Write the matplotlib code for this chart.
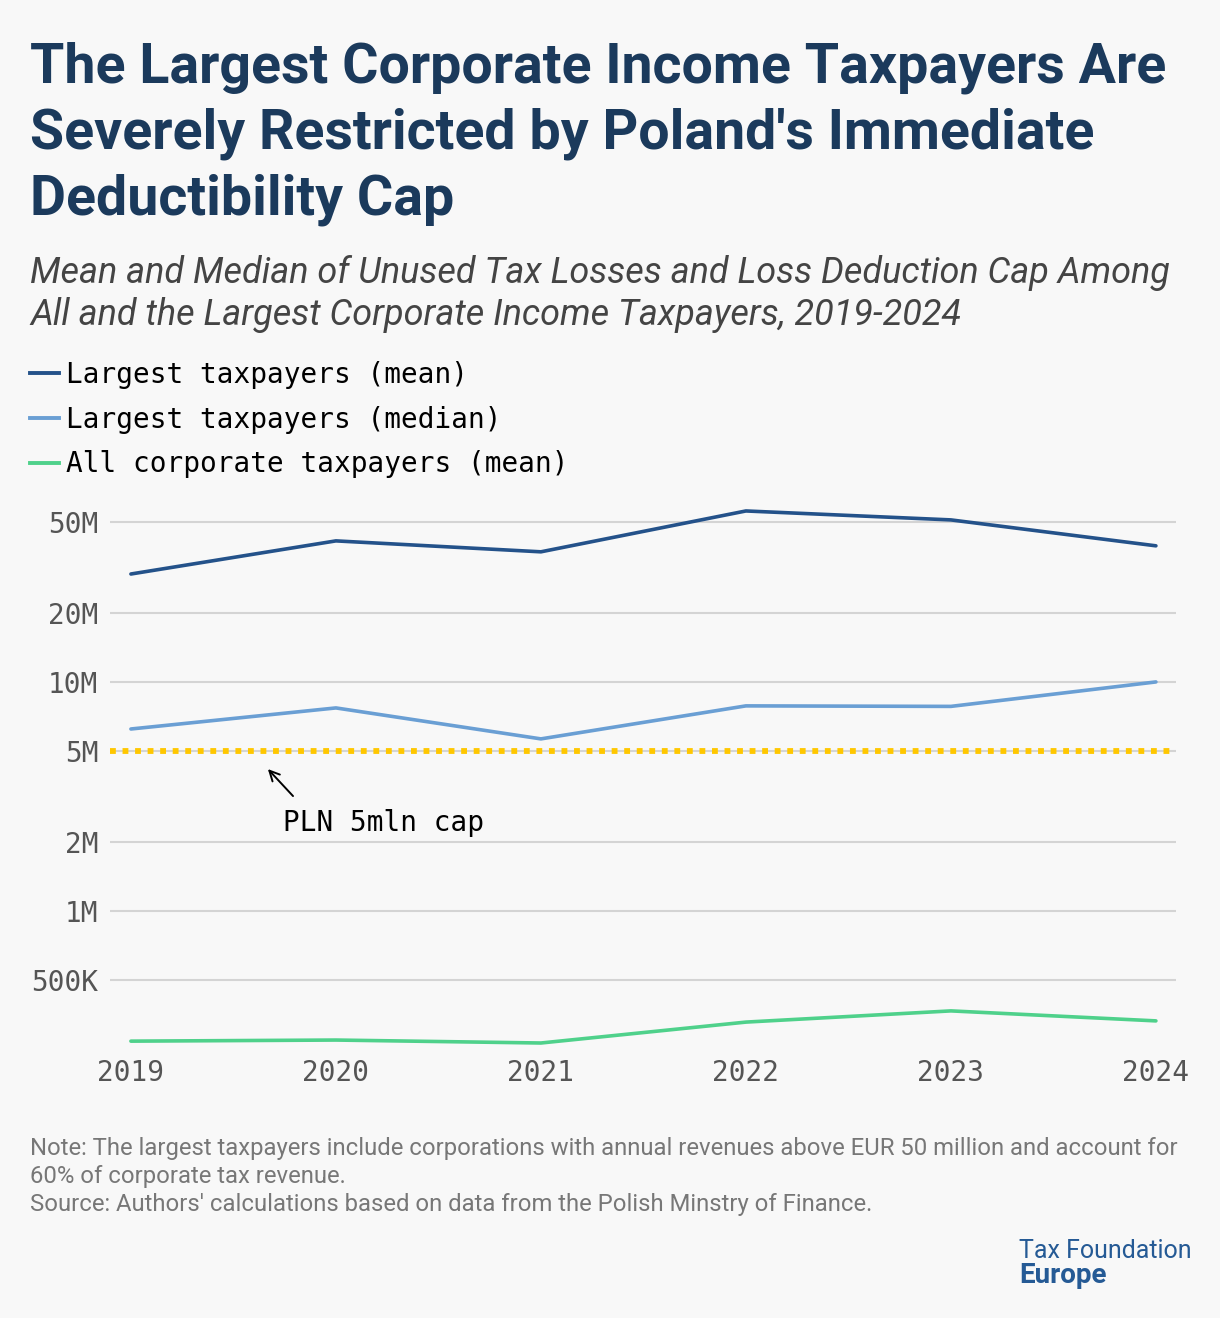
import matplotlib
matplotlib.use("Agg")
import matplotlib.pyplot as plt
from matplotlib.lines import Line2D
from matplotlib.ticker import FixedLocator, NullLocator

years = [2019, 2020, 2021, 2022, 2023, 2024]
largest_mean = [29.6e6, 41.3e6, 37.0e6, 55.8e6, 51.0e6, 39.3e6]
largest_median = [6.23e6, 7.70e6, 5.64e6, 7.86e6, 7.82e6, 10.0e6]
all_mean = [270e3, 273e3, 265e3, 327e3, 366e3, 331e3]
cap_value = 5e6

ytick_vals = [500e3, 1e6, 2e6, 5e6, 10e6, 20e6, 50e6]
ytick_labels = ["500K", "1M", "2M", "5M", "10M", "20M", "50M"]
series_labels = ["Largest taxpayers (mean)", "Largest taxpayers (median)", "All corporate taxpayers (mean)"]

BG = "#f8f8f8"
C_MEAN = "#24528a"
C_MED = "#6a9fd4"
C_ALL = "#4fd18b"
C_CAP = "#ffc700"
TITLE_C = "#1b3a5c"
MONO = ["DejaVu Sans Mono"]

W, H = 1220, 1318
fig = plt.figure(figsize=(W / 100, H / 100), dpi=100, facecolor=BG)

def fx(px):
    return px / W

def fy(py):
    return 1 - py / H

ax = fig.add_axes([fx(110), fy(1050), fx(1176) - fx(110), fy(500) - fy(1050)])
ax.set_facecolor(BG)
ax.set_yscale("log")
ax.set_xlim(2018.898, 2024.098)
ax.set_ylim(247e3, 62.3e6)
for s in ax.spines.values():
    s.set_visible(False)
ax.yaxis.set_major_locator(FixedLocator(ytick_vals))
ax.yaxis.set_minor_locator(NullLocator())
ax.set_yticklabels(ytick_labels)
ax.set_xticks(years)
ax.set_xticklabels([str(y) for y in years])
ax.tick_params(axis="both", length=0, labelsize=20, labelcolor="#555555")
ax.tick_params(axis="y", pad=8.5)
ax.tick_params(axis="x", pad=6.5)
for lab in ax.get_xticklabels() + ax.get_yticklabels():
    lab.set_family(MONO)
ax.grid(axis="y", color="#d4d4d4", linewidth=1.5)
ax.set_axisbelow(True)

ax.axhline(cap_value, color=C_CAP, linewidth=4.2, linestyle=(0, (1.0, 1.15)),
           dash_capstyle="butt", zorder=2)
ax.plot(years, largest_mean, color=C_MEAN, linewidth=2.6, zorder=3, solid_capstyle="round")
ax.plot(years, largest_median, color=C_MED, linewidth=2.6, zorder=3, solid_capstyle="round")
ax.plot(years, all_mean, color=C_ALL, linewidth=2.6, zorder=3, solid_capstyle="round")

ax.annotate("", xy=(2019.659, 4.25e6), xytext=(2019.80, 3.11e6),
            arrowprops=dict(arrowstyle="->", color="black", lw=1.4, mutation_scale=18))
ax.text(2019.741, 2.42e6, "PLN 5mln cap", family=MONO, fontsize=20, color="black",
        ha="left", va="center")

# Title
title_lines = ["The Largest Corporate Income Taxpayers Are",
               "Severely Restricted by Poland's Immediate",
               "Deductibility Cap"]
for i, t in enumerate(title_lines):
    fig.text(fx(30), fy(82 + i * 66), t, fontsize=40, fontweight="bold", family="Roboto",
             color=TITLE_C, ha="left", va="baseline")

sub_lines = ["Mean and Median of Unused Tax Losses and Loss Deduction Cap Among",
             "All and the Largest Corporate Income Taxpayers, 2019-2024"]
for i, t in enumerate(sub_lines):
    fig.text(fx(30), fy(283 + i * 42), t, fontsize=25.9, style="italic", family="Roboto",
             color="#444444", ha="left", va="baseline")

handles = [Line2D([], [], color=c, linewidth=2.8) for c in (C_MEAN, C_MED, C_ALL)]
leg = fig.legend(handles, series_labels, loc="upper left", bbox_to_anchor=(fx(30), fy(361)),
                 frameon=False, prop={"family": MONO, "size": 20}, handlelength=1.05,
                 handletextpad=0.25, labelspacing=0.6, borderpad=0, borderaxespad=0)

notes = ["Note: The largest taxpayers include corporations with annual revenues above EUR 50 million and account for",
         "60% of corporate tax revenue.",
         "Source: Authors' calculations based on data from the Polish Minstry of Finance."]
for i, t in enumerate(notes):
    fig.text(fx(30), fy(1155 + i * 28), t, fontsize=17.2, family="Roboto", color="#777777",
             ha="left", va="baseline")

fig.text(fx(1019), fy(1258), "Tax Foundation", fontsize=18, family="Roboto", color="#255a95",
         ha="left", va="baseline")
fig.text(fx(1019), fy(1283), "Europe", fontsize=20, fontweight="bold", family="Roboto",
         color="#255a95", ha="left", va="baseline")

fig.savefig("out.png", dpi=100, facecolor=BG)
